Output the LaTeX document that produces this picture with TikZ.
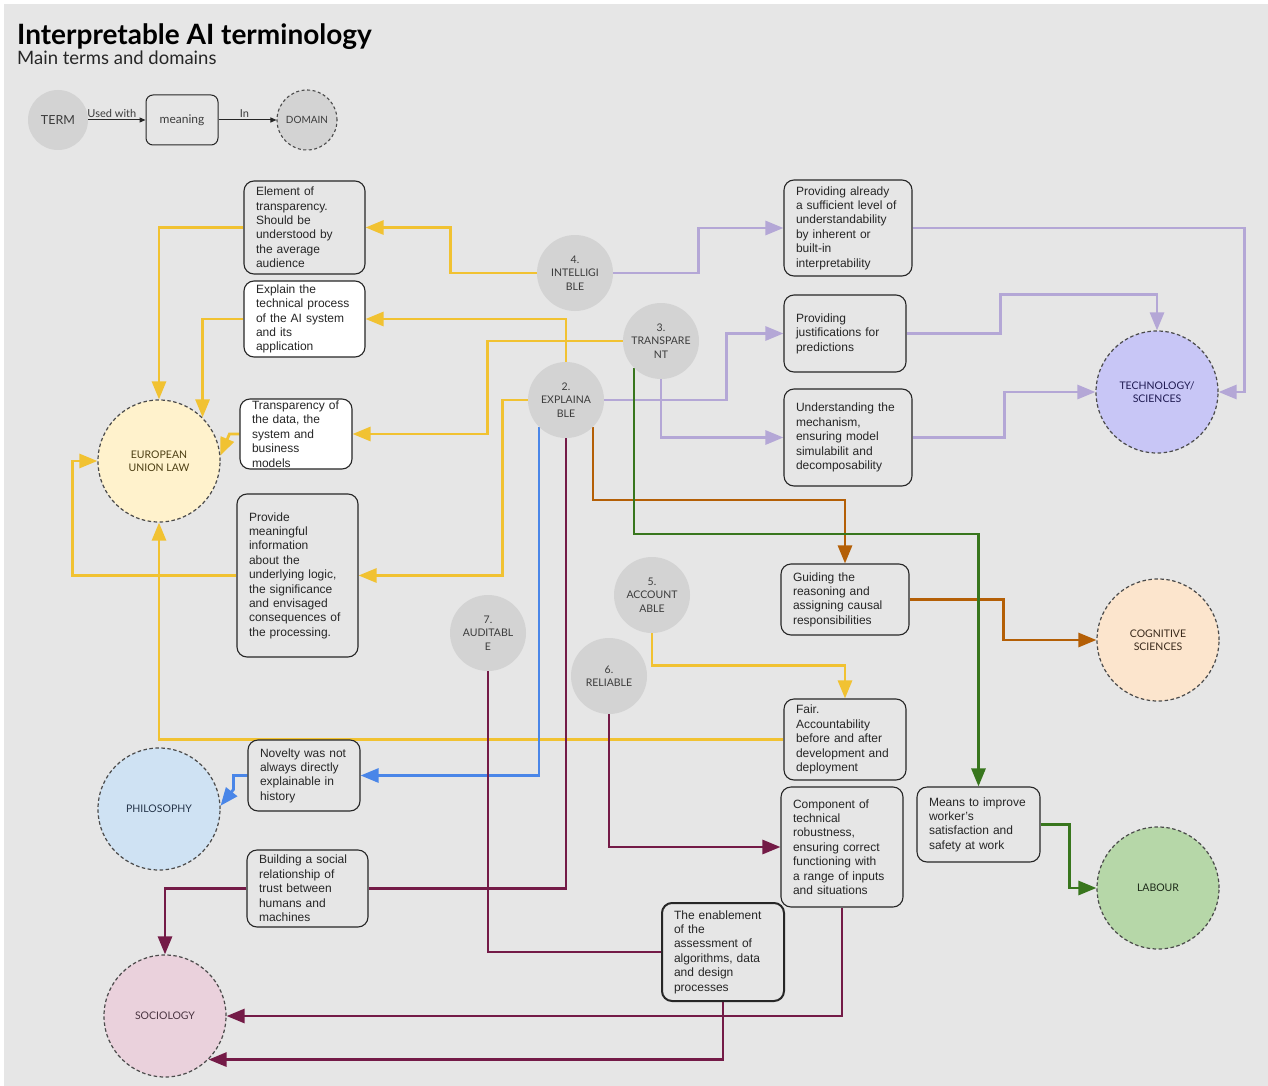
\documentclass[tikz,border=0pt]{standalone}
\usepackage{fontspec}
\setmainfont{Liberation Sans}
\newfontfamily\lato{Lato}
\usetikzlibrary{arrows.meta}
\pgfdeclarelayer{bgl}
\pgfdeclarelayer{edges}
\pgfsetlayers{bgl,edges,main}
\definecolor{bg}{HTML}{E6E6E6}
\definecolor{termfill}{HTML}{D3D3D3}
\definecolor{tgrey}{HTML}{3C3C3C}
\definecolor{dgrey}{HTML}{4A4A4A}
\definecolor{cyellow}{HTML}{F1C232}
\definecolor{clav}{HTML}{B4A7D6}
\definecolor{cgreen}{HTML}{38761D}
\definecolor{corange}{HTML}{B45F06}
\definecolor{cblue}{HTML}{4A86E8}
\definecolor{cmaroon}{HTML}{741B47}
\definecolor{eufill}{HTML}{FFF2CC}
\definecolor{eutext}{HTML}{4D3F14}
\definecolor{techfill}{HTML}{C8C6F6}
\definecolor{techtext}{HTML}{1F1A52}
\definecolor{cogfill}{HTML}{FCE5CD}
\definecolor{cogtext}{HTML}{3A2A1C}
\definecolor{philfill}{HTML}{CFE2F3}
\definecolor{philtext}{HTML}{26354A}
\definecolor{labfill}{HTML}{B6D7A8}
\definecolor{labtext}{HTML}{1E2B1A}
\definecolor{socfill}{HTML}{EAD1DC}
\definecolor{soctext}{HTML}{4A3541}
\begin{document}
\begin{tikzpicture}[x=1pt,y=-1pt,
  termc/.style={circle, fill=termfill, minimum size=76pt, inner sep=0pt, align=center, text=tgrey, font=\lato\fontsize{10.5}{13.5}\selectfont},
  domc/.style={circle, draw=dgrey, line width=1.2pt, dash pattern=on 3.5pt off 2.5pt, minimum size=122pt, inner sep=0pt, align=center, font=\lato\fontsize{10.5}{13.5}\selectfont},
  mbox/.style={draw=black!85, line width=1.1pt, rounded corners=10pt, fill=bg, align=left, inner xsep=12pt, inner ysep=0pt, font=\fontsize{12}{14.4}\selectfont, text=black!85},
  wmbox/.style={mbox, fill=white},
  conn/.style={line width=2.8pt, -{Triangle[length=18pt,width=14pt]}},
  plainline/.style={line width=2.8pt},
  legarrow/.style={line width=1pt, black!85, -{Triangle[length=6pt,width=5pt]}}
]
\useasboundingbox (0,0) rectangle (1268,1086);
\begin{pgfonlayer}{bgl}
\fill[white] (0,0) rectangle (1268,1086);
\fill[bg] (4,4) rectangle (1268,1086);
\end{pgfonlayer}

% title
\node[anchor=base west, inner sep=0pt, font=\lato\bfseries\fontsize{28}{30}\selectfont] (title) at (17,45) {Interpretable AI terminology};
\node[anchor=base west, inner sep=0pt, font=\lato\fontsize{18.5}{20}\selectfont, text=black!85] (subtitle) at (17,65) {Main terms and domains};

% legend
\node[circle, fill=termfill, minimum size=60pt, inner sep=0pt, font=\lato\fontsize{12.5}{14}\selectfont, text=tgrey] (lterm) at (58,120) {TERM};
\node[draw=black!85, line width=1pt, rounded corners=7pt, minimum width=72pt, minimum height=50pt, inner sep=0pt, font=\lato\fontsize{12}{14}\selectfont, text=tgrey] (lmean) at (182,120) {meaning};
\node[circle, fill=termfill, draw=dgrey, line width=1.1pt, dash pattern=on 3pt off 2.5pt, minimum size=60pt, inner sep=0pt, font=\lato\fontsize{10}{12}\selectfont, text=tgrey] (ldom) at (307,120) {DOMAIN};
\draw[legarrow] (lterm) -- node[above, xshift=-5pt, inner sep=2pt, font=\lato\fontsize{11}{12}\selectfont, text=tgrey] {Used with} (lmean);
\draw[legarrow] (lmean) -- node[above, xshift=-3pt, inner sep=2pt, font=\lato\fontsize{11}{12}\selectfont, text=tgrey] {In} (ldom);

% term circles
\node[termc] (intel) at (575,273) {4.\\INTELLIGI\\BLE};
\node[termc] (trans) at (661,341) {3.\\TRANSPARE\\NT};
\node[termc] (expl) at (566,400) {2.\\EXPLAINA\\BLE};
\node[termc] (acc) at (652,595) {5.\\ACCOUNT\\ABLE};
\node[termc] (rel) at (609,676) {6.\\RELIABLE};
\node[termc] (aud) at (488,633) {7.\\AUDITABL\\E};

% domain circles
\node[domc, fill=eufill, text=eutext] (eu) at (159,461) {EUROPEAN\\UNION LAW};
\node[domc, fill=techfill, text=techtext] (tech) at (1157,392) {TECHNOLOGY/\\SCIENCES};
\node[domc, fill=cogfill, text=cogtext] (cog) at (1158,640) {COGNITIVE\\SCIENCES};
\node[domc, fill=philfill, text=philtext] (phil) at (159,809) {PHILOSOPHY};
\node[domc, fill=labfill, text=labtext] (lab) at (1158,888) {LABOUR};
\node[domc, fill=socfill, text=soctext] (soc) at (165,1016) {SOCIOLOGY};

% meaning boxes
\node[mbox, text width=97pt, minimum height=93pt] (b1) at (304.5,227.5) {Element of\\transparency.\\Should be\\understood by\\the average\\audience};
\node[wmbox, text width=97pt, minimum height=76pt] (b2) at (304.5,319) {Explain the\\technical process\\of the AI system\\and its\\application};
\node[wmbox, text width=88pt, minimum height=70pt] (b3) at (296,434) {Transparency of\\the data, the\\system and\\business\\models};
\node[mbox, text width=97pt, minimum height=163pt] (b4) at (297.5,575.5) {Provide\\meaningful\\information\\about the\\underlying logic,\\the significance\\and envisaged\\consequences of\\the processing.};
\node[mbox, text width=88pt, minimum height=71pt] (b5) at (304,775.5) {Novelty was not\\always directly\\explainable in\\history};
\node[mbox, text width=97pt, minimum height=77pt] (b6) at (307.5,888.5) {Building a social\\relationship of\\trust between\\humans and\\machines};
\node[mbox, line width=2pt, text width=98pt, minimum height=98pt] (b7) at (723,952) {The enablement\\of the\\assessment of\\algorithms, data\\and design\\processes};
\node[mbox, text width=104pt, minimum height=96pt] (b8) at (848,228) {Providing already\\a sufficient level of\\understandability\\by inherent or\\built-in\\interpretability};
\node[mbox, text width=98pt, minimum height=77pt] (b9) at (845,333.5) {Providing\\justifications for\\predictions};
\node[mbox, text width=104pt, minimum height=97pt] (b10) at (848,437.5) {Understanding the\\mechanism,\\ensuring model\\simulabilit and\\decomposability};
\node[mbox, text width=104pt, minimum height=71pt] (b11) at (845,599.5) {Guiding the\\reasoning and\\assigning causal\\responsibilities};
\node[mbox, text width=98pt, minimum height=81pt] (b12) at (845,739.5) {Fair.\\Accountability\\before and after\\development and\\deployment};
\node[mbox, text width=98pt, minimum height=120pt] (b13) at (842,847) {Component of\\technical\\robustness,\\ensuring correct\\functioning with\\a range of inputs\\and situations};
\node[mbox, text width=99pt, minimum height=75pt] (b14) at (978.5,824.5) {Means to improve\\worker's\\satisfaction and\\safety at work};

\begin{pgfonlayer}{edges}
% yellow
\draw[conn, cyellow] (intel.west) -- ++(-86,0) |- (b1.east);
\draw[conn, cyellow] (b1.west) -| (eu.north);
\draw[conn, cyellow] (expl.north) |- (b2.east);
\draw[conn, cyellow] (b2.west) -| (eu.45);
\draw[conn, cyellow] (trans.west) -- ++(-135,0) |- (b3.east);
\draw[conn, cyellow] (b3.west) -- ++(-10,0) -- (eu.5);
\draw[conn, cyellow] (expl.west) -- ++(-25,0) |- (b4.east);
\draw[conn, cyellow] (b4.west) -- ++(-164,0) |- (eu.west);
\draw[conn, cyellow] (b12.west) -| (eu.south);
\draw[conn, cyellow] (acc.south) -- ++(0,32) -| (b12.north);
% lavender
\draw[conn, clav] (intel.east) -- ++(85,0) |- (b8.west);
\draw[conn, clav] (b8.east) -- ++(332,0) |- (tech.east);
\draw[conn, clav] (expl.east) -- ++(122,0) |- (b9.west);
\draw[conn, clav] (b9.east) -- ++(94,0) -- ++(0,-39) -| (tech.north);
\draw[conn, clav] (trans.south) |- (b10.west);
\draw[conn, clav] (b10.east) -- ++(92,0) |- (tech.west);
% orange
\draw[conn, corange] (expl.south east) -- ++(0,73) -| (b11.north);
\draw[conn, corange] (b11.east) -- ++(94,0) |- (cog.west);
% green
\draw[conn, cgreen] (trans.south west) -- ++(0,166) -| (b14.north);
\draw[conn, cgreen] (b14.east) -- ++(29,0) |- (lab.west);
% blue
\draw[conn, cblue] (expl.south west) |- (b5.east);
\draw[conn, cblue] (b5.west) -- ++(-14,0) -- ++(0,14) -- (phil.3);
% maroon
\draw[plainline, cmaroon] (expl.south) |- (b6.east);
\draw[conn, cmaroon] (b6.west) -| (soc.north);
\draw[plainline, cmaroon] (aud.south) |- (b7.west);
\draw[conn, cmaroon] (b7.south) |- (soc.-45);
\draw[conn, cmaroon] (rel.south) |- (b13.west);
\draw[conn, cmaroon] (b13.south) |- (soc.east);
\end{pgfonlayer}
\end{tikzpicture}
\end{document}
